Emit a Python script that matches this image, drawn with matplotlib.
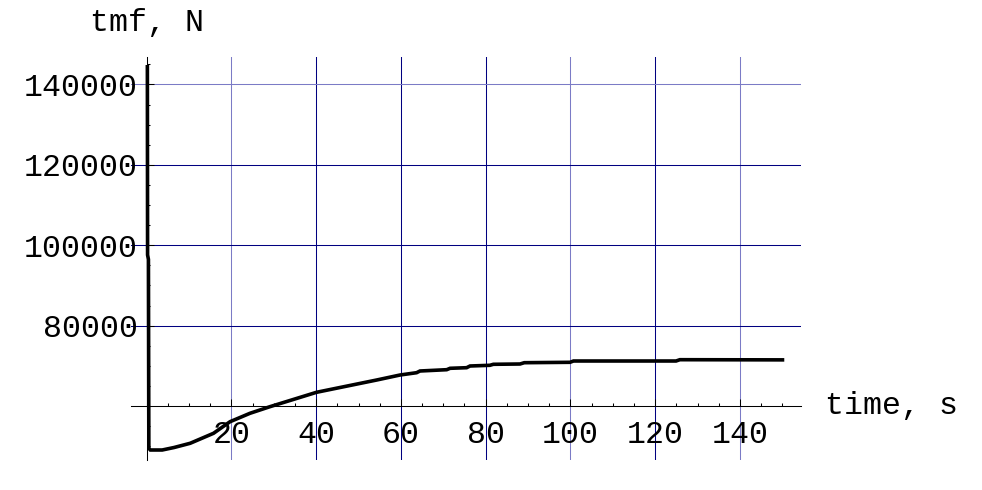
import matplotlib
matplotlib.use("Agg")
import matplotlib.pyplot as plt
from matplotlib.ticker import MultipleLocator, FixedLocator

# data
time_s = [0.2, 0.25, 0.45, 0.55, 0.9, 3.7, 6.5, 10.3, 15.8, 19.7, 24.4, 29.1, 40.1,
          54.3, 59.8, 63.7, 64.5, 70.8, 71.6, 75.5, 76.3, 81.0, 81.8, 88.1, 89.1,
          99.9, 100.7, 124.9, 125.8, 150.0]
tmf_N = [144400, 97600, 96500, 49500, 49080, 49080, 49700, 50750, 53234, 56119,
         58209, 59851, 63433, 66493, 67736, 68308, 68731, 69055, 69403, 69552,
         69975, 70149, 70398, 70473, 70796, 70896, 71219, 71219, 71542, 71500]

x_ticks = [20, 40, 60, 80, 100, 120, 140]
y_ticks = [80000, 100000, 120000, 140000]

# grid line shades as they appear in the picture
x_grid_colors = ['#7b7bc6', '#000080', '#000080', '#000080', '#7b7bc6', '#000080', '#7b7bc6']
y_grid_colors = ['#000080', '#000080', '#000080', '#7b7bc6']

plt.rcParams['font.family'] = ['Liberation Mono', 'DejaVu Sans Mono']
fs = 22.8

fig = plt.figure(figsize=(9.82, 4.90), dpi=100)
ax = fig.add_axes([131 / 982, 1 - 460 / 490, (800.7 - 131) / 982, (460 - 57.3) / 490])

for x, c in zip(x_ticks, x_grid_colors):
    ax.axvline(x, color=c, lw=0.75, zorder=1)
for y, c in zip(y_ticks, y_grid_colors):
    ax.axhline(y, color=c, lw=0.75, zorder=1)

ax.plot(time_s, tmf_N, color='black', lw=2.6, zorder=5, solid_joinstyle='miter')

ax.set_xlim(-3.66, 154.3)
ax.set_ylim(46592, 146766)

ax.spines['top'].set_visible(False)
ax.spines['right'].set_visible(False)
ax.spines['left'].set_position(('data', 0))
ax.spines['bottom'].set_position(('data', 60000))
for s in ['left', 'bottom']:
    ax.spines[s].set_linewidth(0.75)
    ax.spines[s].set_zorder(4)

ax.xaxis.set_major_locator(FixedLocator(x_ticks))
ax.xaxis.set_minor_locator(MultipleLocator(5))
ax.yaxis.set_major_locator(FixedLocator(y_ticks))
ax.yaxis.set_minor_locator(MultipleLocator(5000))
ax.set_xticklabels([str(v) for v in x_ticks])
ax.set_yticklabels([str(v) for v in y_ticks])

ax.tick_params(axis='both', which='both', direction='in', width=0.75, labelsize=fs)
ax.tick_params(axis='both', which='major', length=5)
ax.tick_params(axis='both', which='minor', length=2.5)
ax.tick_params(axis='x', pad=10)
ax.tick_params(axis='y', pad=6)

fig.text(90 / 982, 1 - 31 / 490, 'tmf, N', fontsize=fs, va='baseline', ha='left')
fig.text(825 / 982, 1 - 414 / 490, 'time, s', fontsize=fs, va='baseline', ha='left')

fig.savefig('out.png', dpi=100)
